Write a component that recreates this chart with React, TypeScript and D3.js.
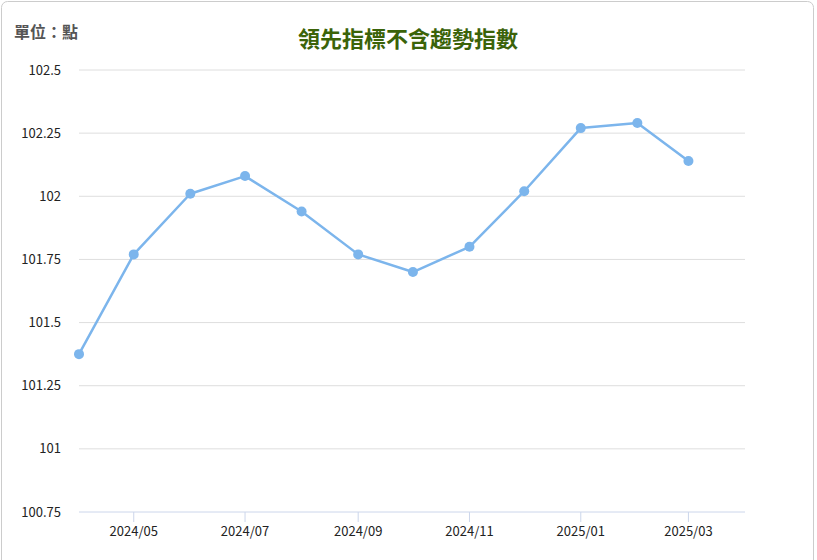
import * as d3 from 'd3'

const months = [
  '2024-04', '2024-05', '2024-06', '2024-07', '2024-08', '2024-09',
  '2024-10', '2024-11', '2024-12', '2025-01', '2025-02', '2025-03',
]
const values = [
  101.375, 101.77, 102.01, 102.08, 101.94, 101.77,
  101.70, 101.80, 102.02, 102.27, 102.29, 102.14,
]
const yTickValues = [100.75, 101, 101.25, 101.5, 101.75, 102, 102.25, 102.5]
const xTickLabels = ['2024/05', '2024/07', '2024/09', '2024/11', '2025/01', '2025/03']

const title = '領先指標不含趨勢指數'
const unitLabel = '單位：點'

const parseMonth = d3.timeParse('%Y-%m')
const parseLabel = d3.timeParse('%Y/%m')

export default function App() {
  const width = 817
  const height = 560
  const plot = { left: 79, right: 745, top: 70, bottom: 512 }

  const data = months.map((m, i) => ({ date: parseMonth(m)!, value: values[i] }))

  const xScale = d3
    .scaleTime()
    .domain([new Date(2024, 3, 1), new Date(2025, 3, 1)])
    .range([plot.left, plot.right])
  const yScale = d3.scaleLinear().domain([100.75, 102.5]).range([plot.bottom, plot.top])

  const line = d3
    .line<{ date: Date; value: number }>()
    .x((d) => xScale(d.date))
    .y((d) => yScale(d.value))

  const font = '"Segoe UI", "Noto Sans CJK TC", "Noto Sans", sans-serif'

  return (
    <svg
      width={width}
      height={height}
      style={{ position: 'absolute', left: 0, top: 0, background: '#fff' }}
      fontFamily={font}
    >
      <rect x={1.5} y={1.5} width={812} height={620} rx={6} fill="#fff" stroke="#cccccc" />
      <text x={14} y={38} fontSize={16} fontWeight="bold" fill="#555555">
        {unitLabel}
      </text>
      <text
        x={408}
        y={47}
        textAnchor="middle"
        fontSize={22}
        fontWeight="bold"
        fill="#3b6309"
        fontFamily='"Noto Sans CJK TC", sans-serif'
      >
        {title}
      </text>

      <g className="y axis">
        {yTickValues.map((v) => (
          <g key={v} transform={`translate(0, ${yScale(v)})`}>
            {v !== 100.75 && (
              <line x1={plot.left} x2={plot.right} stroke="#dedede" strokeWidth={1} />
            )}
            <text x={61} dy="0.35em" textAnchor="end" fontSize={13} fill="#222">
              {String(v)}
            </text>
          </g>
        ))}
      </g>

      <g className="x axis" transform={`translate(0, ${plot.bottom})`}>
        <line x1={plot.left} x2={plot.right} stroke="#ccd6eb" strokeWidth={1} />
        {xTickLabels.map((label) => {
          const x = xScale(parseLabel(label)!)
          return (
            <g key={label} transform={`translate(${x}, 0)`}>
              <line y2={10} stroke="#ccd6eb" />
              <text y={24} textAnchor="middle" fontSize={13} fill="#222">
                {label}
              </text>
            </g>
          )
        })}
      </g>

      <g>
        <path d={line(data)!} fill="none" stroke="#7cb5ec" strokeWidth={2.5} strokeLinejoin="round" />
        {data.map((d) => (
          <circle key={d.date.getTime()} cx={xScale(d.date)} cy={yScale(d.value)} r={5} fill="#7cb5ec" />
        ))}
      </g>
    </svg>
  )
}
